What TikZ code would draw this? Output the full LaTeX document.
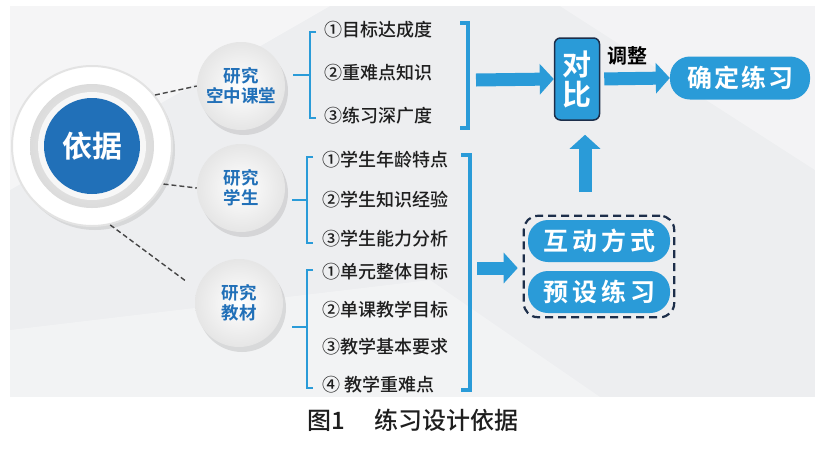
\documentclass[tikz,border=0pt]{standalone}
\usepackage{fontspec}
\setmainfont{Noto Sans CJK SC}[BoldFont={Noto Sans CJK SC Bold}]
\newfontfamily\cjkmed{Noto Sans CJK SC Medium}
\usetikzlibrary{arrows.meta,positioning,calc,shadows,fit}
\definecolor{cyanb}{HTML}{2A9BD8}
\definecolor{deepb}{HTML}{2170B8}
\definecolor{navy}{HTML}{1D2E4A}
\definecolor{panel}{HTML}{EDEEF0}
\definecolor{inkt}{HTML}{1E1E1E}

\tikzset{
  ball/.style={circle,minimum size=88pt,inner sep=0pt,shading=radial,inner color=white,outer color=gray!20,
    font=\bfseries\fontsize{17.5}{20}\selectfont,text=deepb,align=center,
    drop shadow={opacity=0.22,shadow xshift=3pt,shadow yshift=-5pt}},
  item/.style={anchor=west,inner sep=0pt,font=\cjkmed\fontsize{18}{20}\selectfont,text=inkt},
  pill/.style={rounded corners=20pt,fill=cyanb,text=white,font=\bfseries\fontsize{25}{27}\selectfont,
    minimum width=142pt,minimum height=42pt,inner sep=0pt},
  fat/.style={cyanb,line width=13pt,-{Triangle[length=14pt,width=30pt]}},
  brk/.style={cyanb,line width=1.6pt},
  brkR/.style={cyanb,line width=3.4pt},
  link/.style={gray!55!black,dashed,line width=1.4pt,dash pattern=on 5pt off 3pt}
}

\begin{document}
\begin{tikzpicture}[x=1pt,y=-1pt]
  \useasboundingbox (0,0) rectangle (826,448);
  % background panel
  \fill[panel] (10,6) rectangle (815,397);
  \fill[white,opacity=0.45] (10,6) -- (330,6) -- (10,190) -- cycle;
  \fill[white,opacity=0.35] (560,6) -- (815,6) -- (815,170) -- cycle;
  \fill[white,opacity=0.3] (10,330) -- (430,280) -- (600,397) -- (10,397) -- cycle;

  % centre disc
  \node[circle,fill=white,draw=gray!22,line width=2pt,minimum size=160pt,inner sep=0pt,
    drop shadow={opacity=0.2,shadow xshift=3pt,shadow yshift=-4pt}] (base) at (92,146) {};
  \shade[inner color=gray!6,outer color=gray!28] (base.center) circle[radius=62];
  \fill[white!94!gray] (base.center) circle[radius=54];
  \node[circle,fill=deepb,minimum size=96pt,inner sep=0pt,text=white,
    font=\bfseries\fontsize{30}{32}\selectfont] (yiju) at (base.center) {依据};

  % three topics
  \node[ball] (kt) at (241,86) {研究\\空中课堂};
  \node[ball] (xs) at (241,188) {研究\\学生};
  \node[ball] (jc) at (239,303) {研究\\教材};
  \draw[link] (base.39) -- (kt.west);
  \draw[link] (base.-28) -- (xs.west);
  \draw[link,shorten >=14pt] (base.-77) -- (jc.162);

  % lists
  \foreach \y/\t [count=\i] in {30/①目标达成度,73/②重难点知识,116/③练习深广度}
    \node[item] (a\i) at (324,\y) {\t};
  \foreach \y/\t [count=\i] in {160/①学生年龄特点,200/②学生知识经验,239/③学生能力分析}
    \node[item] (b\i) at (322,\y) {\t};
  \foreach \y/\t [count=\i] in {272/①单元整体目标,310/②单课教学目标,347/③教学基本要求,385/④ 教学重难点}
    \node[item] (c\i) at (322,\y) {\t};

  % brackets
  \draw[brk] (316,32) -| (310,118) -- (316,118);
  \draw[brk] (293,75) -- (310,75);
  \draw[brk] (313,157) -| (307,243) -- (313,243);
  \draw[brk] (292,200) -- (307,200);
  \draw[brk] (313,270) -| (307,388) -- (313,388);
  \draw[brk] (292,327) -- (307,327);
  \draw[brkR] (460,23) -| (468,128) -- (460,128);
  \draw[brkR] (461,155) -| (470,390) -- (461,390);

  % right side
  \node[rounded corners=6pt,fill=cyanb,draw=navy,line width=1.5pt,minimum width=45pt,minimum height=82pt,
    inner sep=0pt,text=white,align=center,font=\bfseries\fontsize{29}{30}\selectfont] (db) at (577,79) {对\\比};
  \node[pill,minimum width=140pt,minimum height=43pt] (qd) at (740,78) {确\kern2pt 定\kern2pt 练\kern2pt 习};
  \node[font=\bfseries\fontsize{20}{22}\selectfont,text=black] (tz) at (627,56) {调整};
  \node[pill] (hd) at (599,241) {互\kern4pt 动\kern4pt 方\kern4pt 式};
  \node[pill] (ys) at (599,292) {预\kern4pt 设\kern4pt 练\kern4pt 习};
  \node[draw=navy,dashed,dash pattern=on 8pt off 5pt,line width=2.2pt,rounded corners=14pt,
    fit=(hd)(ys),inner sep=4pt] (grp) {};

  \coordinate (r1) at (476,80);
  \coordinate (r2) at (477,268);
  \coordinate (up) at (585,192);
  \draw[fat] (r1) -- (db.west);
  \draw[fat,shorten <=4pt] (db.east) -- (qd.west);
  \draw[fat,shorten >=5pt] (r2) -- (r2 -| grp.west);
  \draw[fat,shorten >=14pt] (up) -- (up |- db.south);

  % caption
  \node[font=\cjkmed\fontsize{24}{26}\selectfont,text=inkt] (cap) at (413,420) {图1\hspace{30pt}练习设计依据};
\end{tikzpicture}
\end{document}
